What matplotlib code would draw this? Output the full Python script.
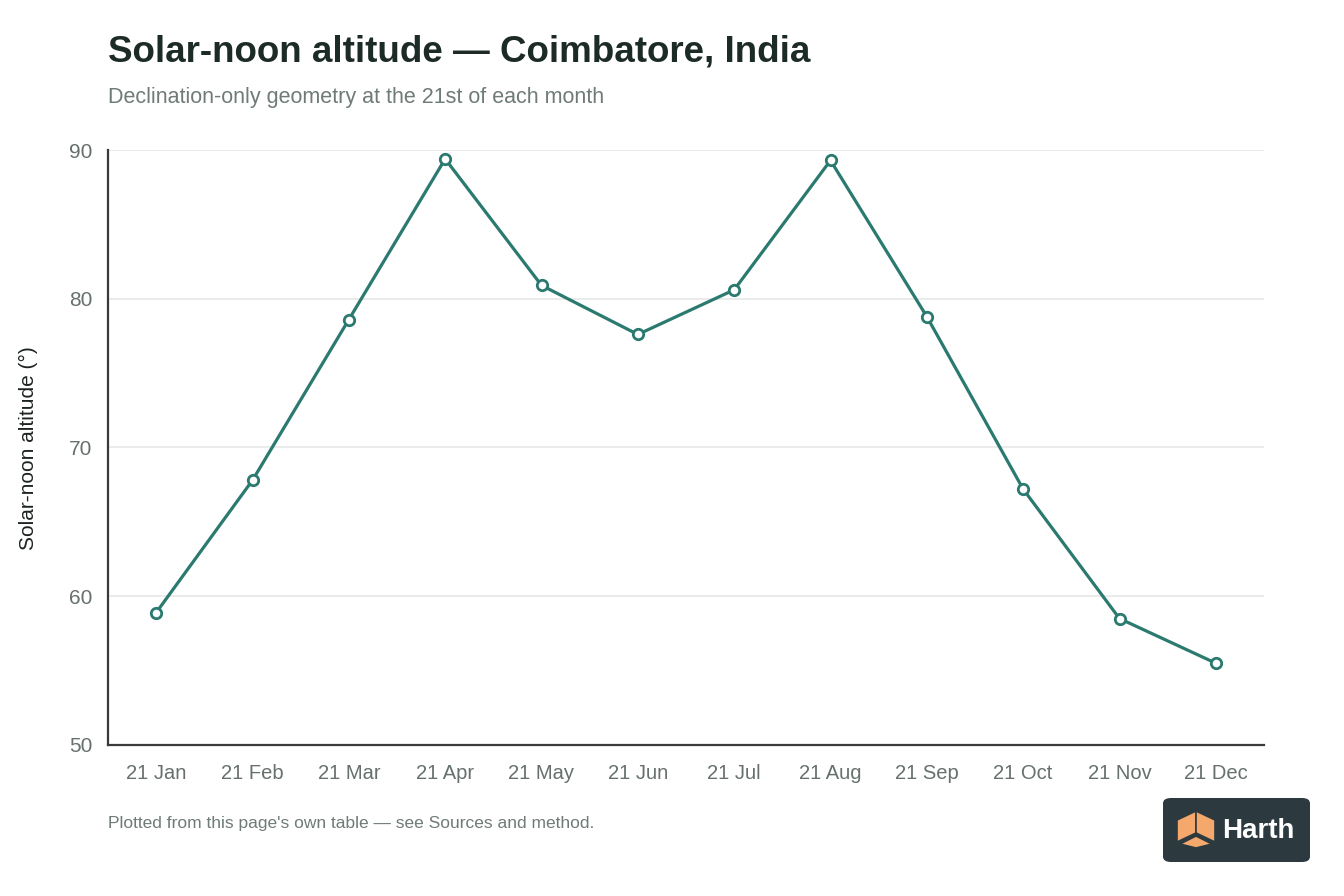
import matplotlib.pyplot as plt
from matplotlib.patches import FancyBboxPatch, Polygon

plt.rcParams['font.family'] = ['Liberation Sans', 'DejaVu Sans']

# data
months = ["21 Jan", "21 Feb", "21 Mar", "21 Apr", "21 May", "21 Jun",
          "21 Jul", "21 Aug", "21 Sep", "21 Oct", "21 Nov", "21 Dec"]
altitude = [58.9, 67.8, 78.6, 89.4, 80.9, 77.6,
            80.6, 89.3, 78.8, 67.2, 58.5, 55.5]
y_ticks = [50, 60, 70, 80, 90]

W, H = 1344, 896
fig = plt.figure(figsize=(W / 100, H / 100), dpi=100)
ax = fig.add_axes([108 / W, 1 - 745 / H, (1264 - 108) / W, (745 - 150) / H])

teal = "#2b7a6f"
x = list(range(len(months)))
ax.plot(x, altitude, color=teal, lw=2.3, marker="o", ms=7.5,
        mfc="white", mec=teal, mew=2.0, zorder=3, clip_on=False)

ax.set_xlim(-0.5, len(months) - 0.5)
ax.set_ylim(50, 90)
ax.set_yticks(y_ticks)
ax.set_xticks(x)
ax.set_xticklabels(months)
ax.grid(axis="y", color="#e6e9e8", lw=1.2)
ax.set_axisbelow(True)

for s in ("top", "right"):
    ax.spines[s].set_visible(False)
for s in ("left", "bottom"):
    ax.spines[s].set_color("#3a3a3a")
    ax.spines[s].set_linewidth(1.6)
ax.tick_params(length=0, labelsize=14.5, labelcolor="#66706d")
ax.tick_params(axis="x", pad=14)
ax.tick_params(axis="y", pad=11, labelsize=15)

fig.text(28 / W, 1 - 448 / H, "Solar-noon altitude (°)", rotation=90,
         ha="center", va="center", fontsize=15, color="#1c2321")

# titles
fig.text(108 / W, 1 - 52 / H, "Solar-noon altitude — Coimbatore, India",
         fontsize=26.5, fontweight="bold", color="#1d2b27", va="center")
fig.text(108 / W, 1 - 97 / H, "Declination-only geometry at the 21st of each month",
         fontsize=15.5, color="#6f7b78", va="center")
fig.text(108 / W, 1 - 823 / H,
         "Plotted from this page's own table — see Sources and method.",
         fontsize=12.5, color="#6f7b78", va="center")

# logo badge
lx0, ly0, lx1, ly1 = 1163, 798, 1310, 862
badge = FancyBboxPatch((lx0 / W, 1 - ly1 / H), (lx1 - lx0) / W, (ly1 - ly0) / H,
                       boxstyle="round,pad=0,rounding_size=0.006",
                       transform=fig.transFigure, fc="#2c3a40", ec="none")
fig.patches.append(badge)


def fp(px, py):
    return (px / W, 1 - py / H)


orange = "#f4a86c"
cube_left = [fp(1177, 820), fp(1196, 811), fp(1196, 833), fp(1177, 842)]
cube_right = [fp(1196, 811), fp(1215, 820), fp(1215, 842), fp(1196, 833)]
cube_bottom = [fp(1180, 844), fp(1196, 836), fp(1212, 844), fp(1196, 848)]
for pts in (cube_left, cube_right, cube_bottom):
    fig.patches.append(Polygon(pts, closed=True, transform=fig.transFigure,
                               fc=orange, ec="#2c3a40", lw=1.2))
fig.text(1222 / W, 1 - 831 / H, "Harth", fontsize=20, fontweight="bold",
         color="white", va="center", ha="left")

fig.savefig("out.png", dpi=100, facecolor="white")
